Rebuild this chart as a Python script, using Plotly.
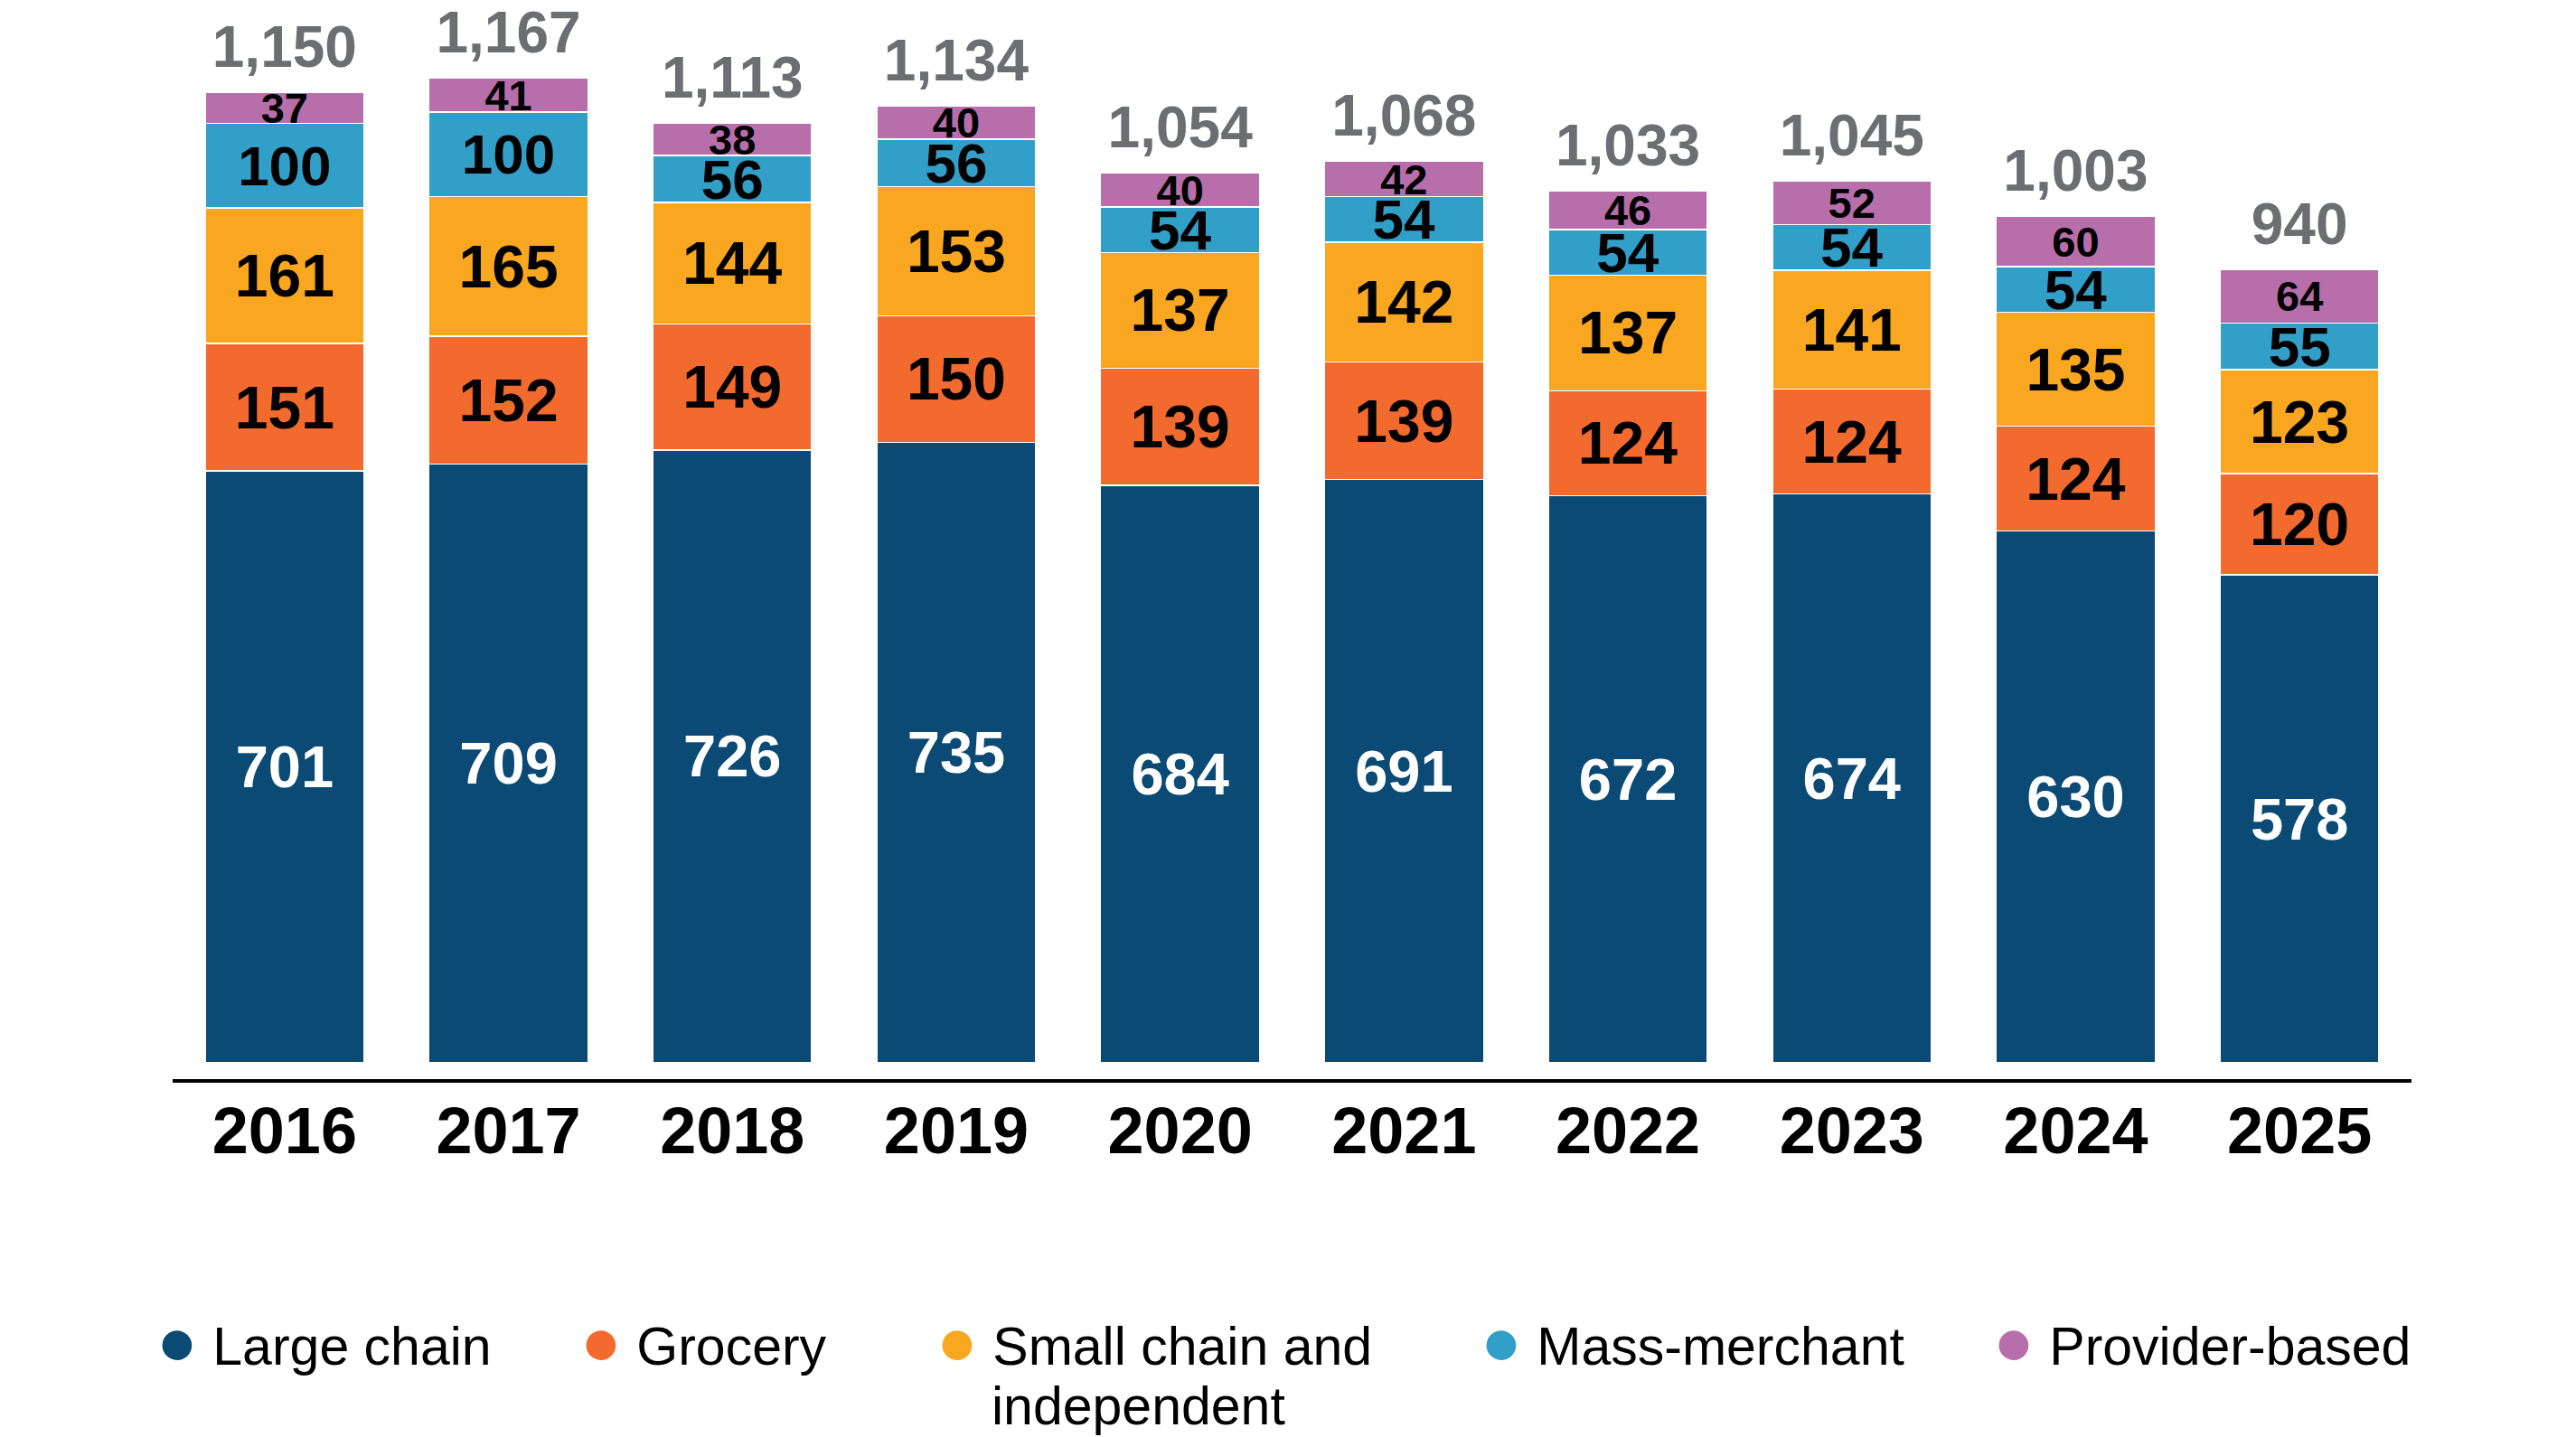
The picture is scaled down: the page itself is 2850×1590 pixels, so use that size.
import plotly.graph_objects as go

years = ["2016", "2017", "2018", "2019", "2020", "2021", "2022", "2023", "2024", "2025"]
large_chain = [701, 709, 726, 735, 684, 691, 672, 674, 630, 578]
grocery = [151, 152, 149, 150, 139, 139, 124, 124, 124, 120]
small_chain = [161, 165, 144, 153, 137, 142, 137, 141, 135, 123]
mass_merchant = [100, 100, 56, 56, 54, 54, 54, 54, 54, 55]
provider_based = [37, 41, 38, 40, 40, 42, 46, 52, 60, 64]
totals = [1150, 1167, 1113, 1134, 1054, 1068, 1033, 1045, 1003, 940]

series_names = ["Large chain", "Grocery", "Small chain and", "Mass-merchant", "Provider-based"]
series_full_names = ["Large chain", "Grocery", "Small chain and independent", "Mass-merchant", "Provider-based"]
wrapped_line = "independent"
series_values = [large_chain, grocery, small_chain, mass_merchant, provider_based]
colors = ["#0b4a74", "#f26a2e", "#f9a620", "#329fc8", "#b76eab"]
text_colors = ["white", "black", "black", "black", "black"]
label_sizes = [65, 66, 66, 62, 47]

FONT = "Liberation Sans, Arial, sans-serif"

W, H = 2850, 1590
ML, MR, MT, MB = 191, 182, 0, 396
plot_w = W - ML - MR
plot_h = H - MT - MB

fig = go.Figure()
for vals, name, c, tc, ls in zip(series_values, series_full_names, colors, text_colors, label_sizes):
    fig.add_trace(go.Bar(
        x=years, y=vals, name=name,
        marker=dict(color=c, line=dict(color="white", width=1.5)),
        text=[str(v) for v in vals], textposition="inside", insidetextanchor="middle",
        textangle=0, constraintext="none",
        insidetextfont=dict(family=FONT, size=ls, color=tc, weight="bold"),
        showlegend=False, hoverinfo="skip",
    ))

# totals above the bars
fig.add_trace(go.Scatter(
    x=years, y=totals, mode="markers+text", text=[f"{t:,}" for t in totals],
    textposition="top center", cliponaxis=False,
    marker=dict(size=18, color="rgba(0,0,0,0)"),
    textfont=dict(family=FONT, size=64, color="#6d6e71", weight="bold"),
    showlegend=False, hoverinfo="skip",
))

# legend entries (one legend per entry, positioned like the reference)
glyph_left_px = [184, 653, 1047, 1649, 2216]
legend_ids = ["legend", "legend2", "legend3", "legend4", "legend5"]
legend_layouts = {}
LEG_FONT = 59
for i, (name, c) in enumerate(zip(series_names, colors)):
    label = f"<span style='color:{c};font-size:76px'>●</span>\u00a0{name}"
    fig.add_trace(go.Scatter(x=[None], y=[None], mode="markers", name=label,
                             marker=dict(color="rgba(0,0,0,0)", size=2),
                             legend=legend_ids[i], showlegend=True, hoverinfo="skip"))
    lx = (glyph_left_px[i] - 51 - ML) / plot_w
    legend_layouts[legend_ids[i]] = dict(
        x=lx, y=(plot_h - 1442) / plot_h, xanchor="left", yanchor="top",
        orientation="v", itemwidth=30, bgcolor="rgba(0,0,0,0)", borderwidth=0,
        font=dict(family=FONT, size=LEG_FONT, color="black"),
    )

# second line of the wrapped legend label
fig.add_annotation(xref="paper", yref="paper", x=(1095 - ML) / plot_w, y=(plot_h - 1556) / plot_h,
                   xanchor="left", yanchor="middle", text=wrapped_line, showarrow=False,
                   font=dict(family=FONT, size=LEG_FONT, color="black"))

fig.update_layout(
    width=W, height=H, autosize=False,
    margin=dict(l=ML, r=MR, t=MT, b=MB, pad=0),
    paper_bgcolor="white", plot_bgcolor="white",
    barmode="stack", bargap=0.29,
    xaxis=dict(type="category", range=[-0.5, 9.5], showline=True, linecolor="black", linewidth=4,
               ticks="", showgrid=False, zeroline=False,
               tickfont=dict(family=FONT, size=72, color="black", weight="bold"),
               ticklabelstandoff=-8),
    yaxis=dict(range=[-19.3, 1259], showticklabels=False, showline=False, ticks="",
               showgrid=False, zeroline=False),
    showlegend=True,
    **legend_layouts,
)

fig.write_html("out.html")
